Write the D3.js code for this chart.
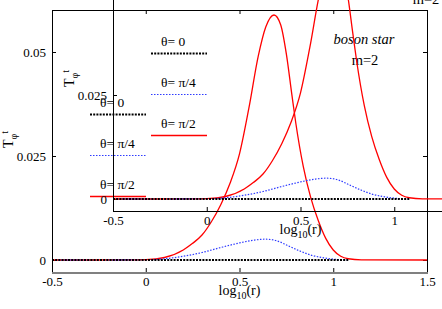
<!DOCTYPE html>
<html>
<head>
<meta charset="utf-8">
<script src="https://cdn.jsdelivr.net/npm/d3@7"></script>
<style>
  html, body { margin: 0; padding: 0; background: #fff; }
  svg { display: block; }
</style>
</head>
<body>
<div id="chart"></div>
<script>
// values: log10(r) against T_phi^t
const redLogR = [-0.5, -0.3, -0.1, 0, 0.1, 0.2, 0.25, 0.3, 0.35, 0.4, 0.45, 0.5, 0.55, 0.6, 0.64, 0.684, 0.72, 0.75, 0.78, 0.8, 0.84, 0.88, 0.92, 0.96, 1.0, 1.04, 1.08, 1.15, 1.5];
const redT = [0, 0, 0.00003, 0.0001, 0.0006, 0.0024, 0.004, 0.006, 0.0092, 0.0133, 0.0185, 0.0255, 0.0365, 0.049, 0.056, 0.0589, 0.0565, 0.0495, 0.0395, 0.033, 0.0225, 0.015, 0.0095, 0.0052, 0.0024, 0.0009, 0.0003, 0.00003, 0];

const blueLogR = [-0.5, -0.2, 0, 0.1, 0.2, 0.3, 0.4, 0.5, 0.58, 0.64, 0.7, 0.76, 0.82, 0.88, 0.94, 1.0, 1.08];
const blueT = [0, 0, 0.00005, 0.0003, 0.0009, 0.0018, 0.003, 0.0041, 0.0048, 0.005, 0.0046, 0.0034, 0.0022, 0.0012, 0.0006, 0.0002, 0];

const blackLogR = [-0.5, 0, 0.5, 1.0, 1.08];
const blackT = [0, 0, 0, 0, 0];

const seriesNames = ["θ= 0", "θ= π/4", "θ= π/2"];

const xTicks = [-0.5, 0, 0.5, 1, 1.5];
const xTickLabels = ["-0.5", "0", "0.5", "1", "1.5"];
const yTicks = [0, 0.025, 0.05];
const yTickLabels = ["0", "0.025", "0.05"];

// page and plot frame
const svgWidth = 442;
const svgHeight = 309;
const frameW = 375;
const frameH = 262;
const shift = 61; // the second copy of the plot sits up and to the right
const serif = "'Liberation Serif', 'Times New Roman', 'DejaVu Serif', serif";

const svg = d3.select("#chart").append("svg")
    .attr("width", svgWidth)
    .attr("height", svgHeight)
    .attr("font-family", serif);

const x = d3.scaleLinear().domain([-0.5, 1.5]).range([0, frameW]);
const y = d3.scaleLinear().domain([0, 0.05]).range([250, 42]);

const line = d3.line()
    .x(d => x(d[0]))
    .y(d => y(d[1]))
    .curve(d3.curveMonotoneX);

function drawPanel(g, opts) {
    // frame
    g.append("rect")
        .attr("x", 0.5).attr("y", 0.5)
        .attr("width", frameW).attr("height", frameH)
        .attr("fill", "none").attr("stroke", "#000").attr("stroke-width", 1);
    if (opts.greyBottom) {
        g.append("line")
            .attr("x1", 0).attr("x2", frameW + 1)
            .attr("y1", frameH + 1).attr("y2", frameH + 1)
            .attr("stroke", "#808080").attr("stroke-width", 2);
    }

    // axes, ticks pointing inward
    const bottom = g.append("g")
        .attr("transform", `translate(0,${frameH})`)
        .call(d3.axisBottom(x).tickValues(xTicks).tickFormat((d, i) => xTickLabels[i])
            .tickSizeInner(-4).tickSizeOuter(0).tickPadding(5));
    const left = g.append("g")
        .call(d3.axisLeft(y).tickValues(yTicks).tickFormat((d, i) => yTickLabels[i])
            .tickSizeInner(-4).tickSizeOuter(0).tickPadding(6));
    const top = g.append("g")
        .call(d3.axisTop(x).tickValues(xTicks).tickFormat("").tickSizeInner(-4).tickSizeOuter(0));
    const right = g.append("g")
        .attr("transform", `translate(${frameW},0)`)
        .call(d3.axisRight(y).tickValues(yTicks).tickFormat("").tickSizeInner(-4).tickSizeOuter(0));

    [bottom, left, top, right].forEach(a => {
        a.select(".domain").remove();
        a.attr("font-family", serif).attr("font-size", 13);
        a.selectAll("line").attr("stroke", "#000");
        a.selectAll("text").attr("fill", "#000");
    });

    // curves: red under blue under black, as in the picture
    g.append("path")
        .datum(d3.zip(redLogR, redT))
        .attr("d", line)
        .attr("fill", "none").attr("stroke", "#ff0000").attr("stroke-width", 1.3);
    g.append("path")
        .datum(d3.zip(blueLogR, blueT))
        .attr("d", line)
        .attr("fill", "none").attr("stroke", "#2f3cff").attr("stroke-width", 1.2)
        .attr("stroke-dasharray", "1.5,1.5");
    g.append("path")
        .datum(d3.zip(blackLogR, blackT))
        .attr("d", line)
        .attr("fill", "none").attr("stroke", "#000").attr("stroke-width", 2)
        .attr("stroke-dasharray", "2,1.2");

    // legend
    const styles = [
        { stroke: "#000", width: 2, dash: "2,1.2" },
        { stroke: "#2f3cff", width: 1.2, dash: "1.5,1.5" },
        { stroke: "#ff0000", width: 1.3, dash: null }
    ];
    const rows = [97, 138, 179];
    seriesNames.forEach((name, i) => {
        g.append("text")
            .attr("x", 48).attr("y", rows[i])
            .attr("font-size", 13.5)
            .text(name);
        g.append("line")
            .attr("x1", 38).attr("x2", 94)
            .attr("y1", rows[i] + 7.5).attr("y2", rows[i] + 7.5)
            .attr("stroke", styles[i].stroke)
            .attr("stroke-width", styles[i].width)
            .attr("stroke-dasharray", styles[i].dash);
    });

    // annotation
    g.append("text")
        .attr("x", 312).attr("y", 34)
        .attr("text-anchor", "middle")
        .attr("font-size", 14.5)
        .attr("font-style", "italic")
        .text("boson star");
    g.append("text")
        .attr("x", 313).attr("y", 55)
        .attr("text-anchor", "middle")
        .attr("font-size", 14.5)
        .text("m=2");

    // axis titles
    const xl = g.append("text")
        .attr("x", frameW / 2).attr("y", 285)
        .attr("text-anchor", "middle")
        .attr("font-size", 14);
    xl.append("tspan").text("log");
    xl.append("tspan").attr("dy", 4).attr("font-size", 10).text("10");
    xl.append("tspan").attr("dy", -4).text("(r)");

    const yl = g.append("text")
        .attr("transform", "translate(-39.5,129.5) rotate(-90)")
        .attr("text-anchor", "middle")
        .attr("font-size", 14);
    yl.append("tspan").text("T");
    yl.append("tspan").attr("dy", 4).attr("font-size", 10).text("φ");
    yl.append("tspan").attr("dy", -9).attr("font-size", 10).text("t");
}

drawPanel(svg.append("g").attr("transform", "translate(52,10)"), { greyBottom: true });
drawPanel(svg.append("g").attr("transform", `translate(${52 + shift},${10 - shift})`), { greyBottom: false });
</script>
</body>
</html>
